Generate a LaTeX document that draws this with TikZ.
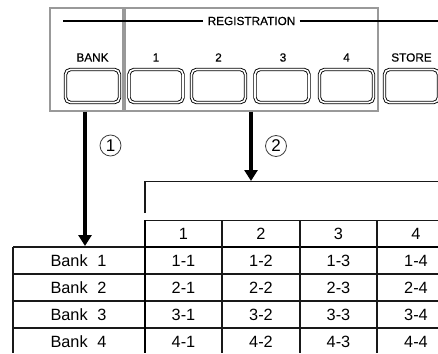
\documentclass[tikz,border=0pt]{standalone}
\usepackage{fontspec}
\setmainfont{Liberation Sans}
\newfontfamily\lblfont{Liberation Sans}[FakeBold=0.5]
\usetikzlibrary{arrows.meta}
\begin{document}
\begin{tikzpicture}[x=1pt,y=-1pt,
  frame/.style={draw=black!40, line width=1.1pt, inner sep=0pt},
  btn/.style={draw=black, line width=0.9pt, rounded corners=5pt, minimum width=54pt, minimum height=33pt, inner sep=0pt, double=white, double distance=1.6pt},
  lbl/.style={font=\lblfont\fontsize{11.8}{13}\selectfont, inner sep=0pt},
  cell/.style={font=\fontsize{16.3}{18}\selectfont, inner sep=0pt},
  circ/.style={circle, draw=black!75, line width=0.8pt, minimum size=21pt, inner sep=0pt, font=\fontsize{17}{19}\selectfont},
  bigarrow/.style={line width=4.5pt, -{Triangle[width=13pt,length=11pt]}},
  gridthin/.style={line width=1.2pt, draw=black!90},
  gridthick/.style={line width=2.4pt, draw=black}
]
\useasboundingbox (0,0) rectangle (438,353);
% frames
\node[frame, minimum width=73pt, minimum height=103pt] (fbank) at (86.5,59.5) {};
\node[frame, minimum width=253pt, minimum height=103pt] (freg) at (251.5,59.5) {};
% registration title line
\node[lbl, inner xsep=4pt] (reg) at (251.5,21) {REGISTRATION};
\coordinate (tl) at (63,21);
\coordinate (tr) at (438,21);
\draw[line width=1.6pt] (tl) -- (reg.west);
\draw[line width=1.6pt] (reg.east) -- (tr);
% labels
\node[lbl] (lbank) at (92.5,57.5) {BANK};
\node[lbl] (l1) at (156,57.5) {1};
\node[lbl] (l2) at (218.5,57.5) {2};
\node[lbl] (l3) at (283,57.5) {3};
\node[lbl] (l4) at (346.5,57.5) {4};
\node[lbl] (lstore) at (411.5,57.5) {STORE};
% buttons
\node[btn] (bbank) at (92.5,86) {};
\node[btn] (b1) at (156,86) {};
\node[btn] (b2) at (218.5,86) {};
\node[btn] (b3) at (282,86) {};
\node[btn] (b4) at (346.5,86) {};
\node[btn] (bstore) at (411.5,86) {};
% arrows
\coordinate (a1) at (85,246);
\coordinate (a2) at (251,181);
\draw[bigarrow] (fbank.south -| a1) -- (a1);
\draw[bigarrow] (freg.south -| a2) -- (a2);
\node[circ] (c1) at (110.5,145.5) {1};
\node[circ] (c2) at (276,146) {2};
% bracket
\coordinate (br0) at (145,213);
\coordinate (br1) at (145,181.5);
\coordinate (br2) at (438,181.5);
\draw[gridthin] (br0) -- (br1) -- (br2);
% table grid
\draw[gridthin] (145,220.5) -- (438,220.5);
\draw[gridthin] (13,247) -- (145,247);
\draw[gridthick] (145,247) -- (438,247);
\foreach \y in {274,301,328} \draw[gridthin] (13,\y) -- (438,\y);
\draw[gridthin] (13,247) -- (13,353);
\draw[gridthick] (145,220) -- (145,353);
\foreach \x in {222,300,377} \draw[gridthin] (\x,220) -- (\x,353);
% header
\node[cell] (h1) at (183.5,234) {1};
\node[cell] (h2) at (261,234) {2};
\node[cell] (h3) at (338.5,234) {3};
\node[cell] (h4) at (416,234) {4};
% rows
\foreach \r/\y in {1/260.5,2/287.5,3/314.5,4/341.5} {
  \node[cell] (bank\r) at (78.5,\y) {Bank\hspace{0.6em}\r};
  \node[cell] (c\r-1) at (183.5,\y) {\r-1};
  \node[cell] (c\r-2) at (261,\y) {\r-2};
  \node[cell] (c\r-3) at (338.5,\y) {\r-3};
  \node[cell] (c\r-4) at (416,\y) {\r-4};
}
\end{tikzpicture}
\end{document}
